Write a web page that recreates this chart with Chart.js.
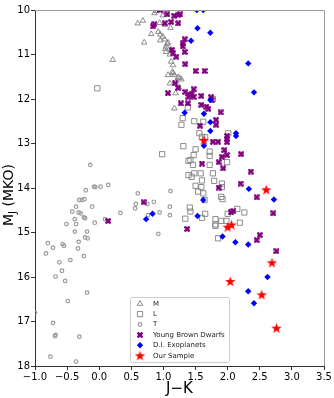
<!DOCTYPE html>
<html><head><meta charset="utf-8">
<script src="https://cdn.jsdelivr.net/npm/chart.js@4/dist/chart.umd.min.js"></script>
<style>html,body{margin:0;padding:0;background:#fff;}</style>
</head><body>
<canvas id="c" width="334" height="398" style="display:block;width:334px;height:398px"></canvas>
<script>
// ---------- data ----------
const xTicks = [-1.0,-0.5,0.0,0.5,1.0,1.5,2.0,2.5,3.0,3.5];
const yTicks = [10,11,12,13,14,15,16,17,18];
const seriesNames = ['M','L','T','Young Brown Dwarfs','D.I. Exoplanets','Our Sample'];

const mDwarfs = [[0.60,10.30],[0.68,10.24],[0.70,10.73],[0.21,11.12],[0.86,10.07],[0.89,10.02],[0.99,10.12],[1.03,10.05],[0.94,10.29],[1.02,10.33],[1.11,10.40],[0.81,10.54],[0.92,10.49],[0.95,10.55],[0.99,10.60],[1.02,10.66],[0.95,10.68],[1.07,10.73],[1.06,10.76],[1.04,10.82],[1.03,10.87],[1.12,10.89],[1.04,10.94],[1.10,11.00],[1.12,11.16],[1.15,11.24],[1.14,11.39],[1.17,11.46],[1.07,11.46],[1.23,11.51],[1.28,11.56],[1.25,11.53],[1.20,11.60],[1.15,11.42],[1.10,11.65],[1.24,11.74],[1.19,11.87],[1.17,12.21]];

const lDwarfs = [[-0.03,11.76],[1.38,12.19],[1.77,12.00],[1.30,12.43],[1.28,12.58],[1.48,12.50],[1.62,12.51],[1.56,12.77],[1.60,12.85],[1.65,12.86],[2.01,12.77],[1.31,13.06],[0.98,13.24],[1.50,13.13],[1.47,13.26],[1.42,13.37],[1.39,13.39],[1.46,13.48],[1.72,13.18],[1.72,13.28],[1.72,13.48],[1.99,13.42],[1.48,13.67],[1.58,13.67],[1.44,13.75],[1.77,13.67],[1.60,13.83],[1.79,13.84],[1.50,13.95],[1.59,13.98],[1.91,13.90],[1.91,13.98],[1.54,14.08],[1.62,14.12],[1.90,14.20],[1.64,14.27],[1.92,14.25],[1.41,14.44],[1.42,14.53],[1.34,14.69],[1.65,14.58],[1.60,14.67],[1.81,14.70],[1.81,14.82],[1.81,14.85],[1.90,14.74],[1.98,14.74],[2.00,14.58],[2.15,14.47],[2.26,14.55],[2.19,14.78],[1.85,15.13],[1.39,13.71]];

const tDwarfs = [[-0.14,13.48],[-0.08,13.97],[-0.06,13.98],[0.02,13.97],[0.14,13.93],[-0.21,14.05],[-0.27,14.27],[-0.23,14.25],[-0.31,14.27],[-0.11,14.42],[-0.36,14.42],[-0.42,14.53],[-0.32,14.55],[-0.29,14.57],[-0.24,14.66],[-0.22,14.68],[-0.38,14.70],[-0.36,14.81],[-0.51,14.81],[-0.07,14.78],[0.09,14.70],[0.33,14.56],[0.60,14.12],[0.57,14.36],[0.56,14.46],[0.75,14.36],[0.85,14.31],[0.76,14.61],[0.94,14.55],[1.10,14.42],[1.10,14.61],[0.92,15.03],[1.11,14.07],[-0.38,14.98],[-0.19,14.98],[-0.32,15.21],[-0.22,15.11],[-0.18,15.13],[-0.80,15.24],[-0.72,15.34],[-0.57,15.26],[-0.55,15.30],[-0.83,15.47],[-0.33,15.36],[-0.24,15.53],[-0.62,15.67],[-0.45,15.62],[-0.58,15.86],[-0.68,15.99],[-0.53,16.09],[-0.49,16.54],[-0.19,16.35],[-0.72,17.03],[-0.68,17.30],[-0.69,17.33],[-0.31,17.34],[-0.76,17.79],[-0.36,17.90],[-1.00,16.80]];

const youngBD = [[0.95,10.00],[1.06,10.10],[1.17,10.13],[1.23,10.11],[1.26,10.10],[0.84,10.37],[0.86,10.32],[1.02,10.30],[1.12,10.27],[1.23,10.30],[1.33,10.66],[1.30,10.75],[1.30,10.82],[1.13,10.90],[1.15,10.97],[1.33,10.94],[1.20,11.05],[1.34,11.22],[1.50,11.37],[1.64,11.37],[1.18,11.65],[1.23,11.75],[1.07,11.87],[1.34,11.84],[1.41,11.90],[1.47,11.78],[1.47,11.95],[1.39,11.95],[1.44,11.88],[1.59,11.93],[1.74,11.96],[1.75,12.03],[1.27,12.10],[1.38,12.10],[1.59,12.13],[1.67,12.17],[1.70,12.22],[1.89,12.30],[1.57,12.60],[1.82,12.47],[1.82,12.58],[1.77,12.96],[1.85,12.96],[1.99,12.83],[1.99,12.90],[1.99,12.97],[1.95,13.15],[1.91,13.30],[1.99,13.26],[1.86,13.42],[1.93,13.56],[1.60,13.45],[2.21,13.24],[2.36,13.63],[2.20,13.90],[1.86,13.99],[2.45,14.21],[2.05,14.55],[2.09,14.52],[2.71,14.57],[2.50,15.06],[2.45,15.17],[2.76,15.42],[1.37,14.92],[0.69,14.32],[0.14,14.74]];

const diExoplanets = [[1.52,10.00],[1.62,10.00],[1.53,10.41],[1.73,10.51],[1.43,10.69],[2.32,11.20],[2.41,11.85],[1.73,12.02],[1.33,12.31],[1.63,12.33],[1.73,12.52],[1.73,12.72],[2.13,12.77],[2.13,12.83],[1.63,13.05],[2.33,14.02],[2.72,14.26],[1.62,14.27],[0.73,14.70],[0.83,14.58],[1.53,14.63],[1.92,15.09],[2.12,15.22],[2.32,15.27],[2.62,16.00],[2.32,16.32],[2.41,16.59]];

const ourSample = [[1.63,12.93],[2.60,14.04],[2.00,14.88],[2.06,14.83],[2.04,16.10],[2.69,15.68],[2.53,16.40],[2.76,17.15]];

// ---------- marker images ----------
function makeStar(size, color){
  const c=document.createElement('canvas'); c.width=c.height=size;
  const g=c.getContext('2d'); const cx=size/2, cy=size/2+0.4, R=size/2, r=R*0.4;
  g.beginPath();
  for(let i=0;i<10;i++){const a=-Math.PI/2+i*Math.PI/5; const rr=i%2?r:R; g.lineTo(cx+rr*Math.cos(a), cy+rr*Math.sin(a));}
  g.closePath(); g.fillStyle=color; g.fill(); return c;
}
function makeX(size, color){
  const c=document.createElement('canvas'); c.width=c.height=size;
  const g=c.getContext('2d'); g.translate(size/2,size/2); g.rotate(Math.PI/4);
  g.fillStyle=color; const L=size*1.15, t=size*0.42;
  g.fillRect(-L/2,-t/2,L,t); g.fillRect(-t/2,-L/2,t,L); return c;
}
const starImg = makeStar(11,'#ff0000');
const xImg = makeX(6,'#800080');

const toXY = a => a.map(p=>({x:p[0], y:p[1]}));
const fmt = v => (v<0?'\u2212':'') + Math.abs(v).toFixed(1);

const datasets = [
  {label:seriesNames[0], data:toXY(mDwarfs), pointStyle:'triangle', radius:3.2, borderColor:'#808080', backgroundColor:'rgba(0,0,0,0)', borderWidth:0.9, order:6},
  {label:seriesNames[1], data:toXY(lDwarfs), pointStyle:'rect', radius:3.7, borderColor:'#808080', backgroundColor:'rgba(0,0,0,0)', borderWidth:0.9, order:5},
  {label:seriesNames[2], data:toXY(tDwarfs), pointStyle:'circle', radius:1.8, borderColor:'#9a9a9a', backgroundColor:'rgba(255,255,255,0)', borderWidth:1.2, order:4},
  {label:seriesNames[3], data:toXY(youngBD), pointStyle:xImg, radius:3, borderColor:'#800080', backgroundColor:'#800080', borderWidth:0, order:3},
  {label:seriesNames[4], data:toXY(diExoplanets), pointStyle:'rectRot', radius:3.2, borderColor:'#0000ff', backgroundColor:'#0000ff', borderWidth:0, order:2},
  {label:seriesNames[5], data:toXY(ourSample), pointStyle:starImg, radius:5.5, borderColor:'#ff0000', backgroundColor:'#ff0000', borderWidth:0, order:1}
];
datasets.forEach(d=>{d.pointRadius=d.radius; d.pointHoverRadius=d.radius; d.showLine=false;});

const frame = {
  id:'frame',
  afterDatasetsDraw(chart){
    const {ctx, chartArea:a} = chart; ctx.save();
    ctx.lineWidth=1;
    ctx.strokeStyle='#9a9a9a';
    ctx.beginPath(); ctx.moveTo(a.left, a.top+0.5); ctx.lineTo(a.right+0.5, a.top+0.5); ctx.lineTo(a.right+0.5, a.bottom); ctx.stroke();
    ctx.restore();
  }
};

const legendBox = {
  id:'legendBox',
  afterDraw(chart, args, opts){
    const ctx=chart.ctx; const {x,y,w,h,rowH,firstRow,markerX,textX}=opts;
    ctx.save();
    ctx.beginPath();
    if(ctx.roundRect) ctx.roundRect(x+0.5,y+0.5,w,h,2); else ctx.rect(x+0.5,y+0.5,w,h);
    ctx.fillStyle='rgba(255,255,255,0.8)'; ctx.fill();
    ctx.strokeStyle='#cccccc'; ctx.lineWidth=1; ctx.stroke();
    ctx.font='7px "DejaVu Sans"'; ctx.textBaseline='middle'; ctx.textAlign='left';
    chart.data.datasets.forEach((d,i)=>{
      const yy = y + firstRow + i*rowH;
      ctx.fillStyle=d.backgroundColor; ctx.strokeStyle=d.borderColor; ctx.lineWidth=d.borderWidth;
      Chart.helpers.drawPoint(ctx,{pointStyle:d.pointStyle, radius:d.radius, borderWidth:d.borderWidth, rotation:0}, markerX, yy);
      ctx.fillStyle='#222'; ctx.fillText(d.label, textX, yy);
    });
    ctx.restore();
  }
};

const yTitle = {
  id:'yTitle',
  afterDraw(chart){
    const ctx=chart.ctx, a=chart.chartArea;
    ctx.save();
    ctx.translate(13, (a.top+a.bottom)/2+7);
    ctx.rotate(-Math.PI/2);
    ctx.fillStyle='#000'; ctx.textBaseline='alphabetic'; ctx.textAlign='left';
    const big='14px "DejaVu Sans"', small='10px "DejaVu Sans"';
    ctx.font=big; const wM=ctx.measureText('M').width, wR=ctx.measureText(' (MKO)').width;
    ctx.font=small; const wJ=ctx.measureText('J').width;
    let sx=-(wM+wJ+wR)/2;
    ctx.font=big; ctx.fillText('M',sx,0); sx+=wM;
    ctx.font=small; ctx.fillText('J',sx,3); sx+=wJ;
    ctx.font=big; ctx.fillText(' (MKO)',sx,0);
    ctx.restore();
  }
};

new Chart(document.getElementById('c'), {
  type:'scatter',
  data:{datasets},
  plugins:[frame, legendBox, yTitle],
  options:{
    responsive:false, animation:false, devicePixelRatio:1,
    layout:{padding:{top:10,right:10,left:0,bottom:0}},
    plugins:{
      legend:{display:false}, tooltip:{enabled:false},
      legendBox:{x:130,y:297,w:99,h:65,rowH:10.4,firstRow:6.7,markerX:140,textX:153}
    },
    scales:{
      x:{type:'linear', min:-1, max:3.5,
        afterBuildTicks:s=>{s.ticks=xTicks.map(v=>({value:v}));},
        afterFit:s=>{s.height=32;},
        ticks:{callback:v=>fmt(v), font:{family:'DejaVu Sans', size:10}, color:'#000', padding:1, maxRotation:0, autoSkip:false},
        grid:{display:true, drawOnChartArea:false, drawTicks:true, tickLength:4, color:'#333'},
        border:{display:true, color:'#333', width:1},
        title:{display:true, text:'J\u2212K', font:{family:'DejaVu Sans', size:15}, color:'#000', padding:{top:0,bottom:0}}
      },
      y:{type:'linear', min:10, max:18, reverse:true,
        afterBuildTicks:s=>{s.ticks=yTicks.map(v=>({value:v}));},
        afterFit:s=>{s.width=35;},
        ticks:{callback:v=>String(v), font:{family:'DejaVu Sans', size:10}, color:'#000', padding:1, autoSkip:false},
        grid:{display:true, drawOnChartArea:false, drawTicks:true, tickLength:4, color:'#333'},
        border:{display:true, color:'#333', width:1}
      }
    }
  }
});
</script>
</body></html>
